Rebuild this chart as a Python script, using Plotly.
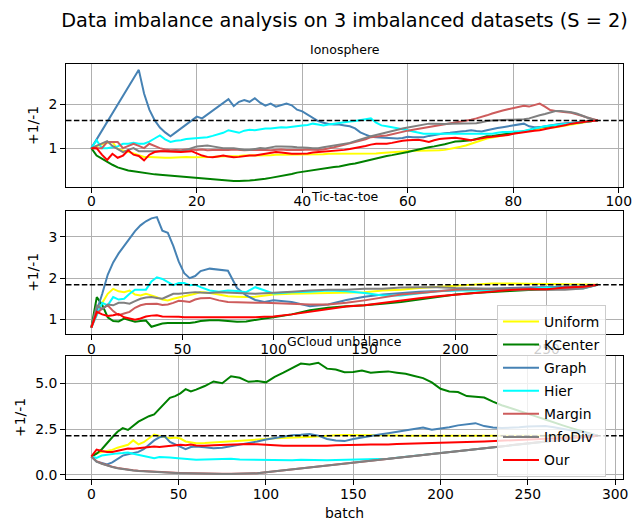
import plotly.graph_objects as go

# ---------------------------------------------------------------- data
SERIES = ["Uniform", "KCenter", "Graph", "Hier", "Margin", "InfoDiv", "Our"]
COLORS = ["#FFFF00", "#008000", "#4682B4", "#00FFFF", "#CD5C5C", "#808080", "#FF0000"]

# Ionosphere: one value per batch, 0..96
ION_X = list(range(97))
ION_REF = 1.63
ION_UNIFORM = [1.00,1.05,1.09,1.12,1.14,0.98,0.95,0.91,0.88,0.84,
               0.80,0.80,0.79,0.79,0.78,0.78,0.79,0.79,0.80,0.79,
               0.79,0.80,0.80,0.80,0.81,0.81,0.82,0.82,0.82,0.83,
               0.83,0.83,0.84,0.84,0.84,0.85,0.85,0.85,0.85,0.85,
               0.86,0.86,0.86,0.86,0.86,0.87,0.87,0.88,0.88,0.88,
               0.88,0.87,0.87,0.87,0.88,0.89,0.90,0.91,0.92,0.93,
               0.93,0.94,0.94,0.94,0.95,0.95,0.95,0.96,0.98,1.00,
               1.03,1.06,1.10,1.14,1.18,1.22,1.24,1.26,1.29,1.31,
               1.34,1.36,1.38,1.40,1.42,1.43,1.45,1.47,1.48,1.50,
               1.52,1.55,1.57,1.59,1.61,1.62,1.63]
ION_KCENTER = [1.00,0.83,0.76,0.68,0.62,0.56,0.52,0.49,0.47,0.45,
               0.43,0.41,0.40,0.39,0.38,0.36,0.35,0.34,0.33,0.32,
               0.31,0.31,0.30,0.29,0.28,0.27,0.26,0.25,0.25,0.25,
               0.26,0.27,0.28,0.30,0.32,0.34,0.36,0.38,0.41,0.44,
               0.46,0.48,0.50,0.52,0.54,0.55,0.57,0.58,0.61,0.63,
               0.65,0.68,0.71,0.74,0.77,0.79,0.82,0.84,0.86,0.88,
               0.91,0.94,0.97,0.99,1.02,1.04,1.06,1.09,1.12,1.15,
               1.16,1.17,1.18,1.21,1.24,1.27,1.28,1.30,1.32,1.33,
               1.34,1.36,1.38,1.41,1.45,1.48,1.49,1.51,1.52,1.54,
               1.55,1.56,1.58,1.59,1.61,1.62,1.63]
ION_GRAPH = [1.00,1.20,1.40,1.59,1.79,1.99,2.19,2.39,2.59,2.79,
             2.25,1.88,1.64,1.47,1.36,1.27,1.36,1.45,1.53,1.62,
             1.72,1.68,1.77,1.86,1.95,2.04,2.12,1.96,2.06,2.10,
             2.06,2.14,2.04,1.97,2.02,1.95,1.99,2.02,1.98,1.88,
             1.84,1.76,1.70,1.62,1.58,1.55,1.54,1.54,1.52,1.50,
             1.45,1.36,1.31,1.26,1.25,1.24,1.23,1.23,1.22,1.23,
             1.26,1.25,1.25,1.25,1.28,1.30,1.33,1.34,1.35,1.37,
             1.38,1.39,1.41,1.39,1.38,1.41,1.44,1.46,1.48,1.50,
             1.52,1.54,1.56,1.50,1.48,1.48,1.50,1.52,1.55,1.56,
             1.57,1.58,1.59,1.60,1.62,1.63,1.63]
ION_HIER = [1.00,1.18,1.00,1.00,1.02,1.04,1.10,1.10,1.12,1.10,
            1.10,1.15,1.22,1.29,1.20,1.14,1.17,1.18,1.21,1.22,
            1.22,1.24,1.25,1.28,1.32,1.35,1.41,1.38,1.35,1.40,
            1.42,1.41,1.43,1.45,1.45,1.46,1.48,1.47,1.49,1.50,
            1.52,1.53,1.56,1.54,1.52,1.54,1.56,1.58,1.60,1.61,
            1.62,1.64,1.66,1.68,1.58,1.52,1.50,1.48,1.46,1.43,
            1.41,1.38,1.35,1.33,1.33,1.33,1.33,1.32,1.32,1.32,
            1.32,1.32,1.32,1.32,1.32,1.32,1.33,1.35,1.37,1.37,
            1.38,1.39,1.39,1.42,1.45,1.48,1.50,1.52,1.53,1.54,
            1.55,1.56,1.57,1.59,1.61,1.62,1.63]
ION_MARGIN = [1.00,1.00,1.00,1.14,1.14,1.14,1.00,1.05,1.10,1.05,
              1.00,1.10,1.05,1.00,0.97,0.95,0.96,0.95,0.97,0.96,
              0.96,0.97,0.95,0.96,0.96,0.95,0.96,0.97,0.96,0.95,
              0.96,0.96,0.97,0.96,0.95,0.96,0.97,0.96,0.96,0.95,
              0.96,0.97,0.96,0.96,0.97,0.99,1.02,1.05,1.08,1.11,
              1.14,1.16,1.20,1.25,1.27,1.28,1.29,1.32,1.35,1.38,
              1.40,1.42,1.44,1.46,1.48,1.50,1.52,1.54,1.56,1.58,
              1.60,1.62,1.65,1.68,1.71,1.75,1.79,1.83,1.86,1.89,
              1.92,1.95,1.97,1.95,1.98,2.02,1.95,1.87,1.85,1.83,
              1.82,1.81,1.78,1.74,1.70,1.66,1.63]
ION_INFODIV = [1.00,1.05,1.10,1.16,1.05,0.98,0.91,0.96,1.00,0.93,
               0.93,0.93,0.93,0.93,0.93,0.93,0.93,0.93,0.96,1.00,
               1.04,1.05,1.06,1.04,1.02,1.00,1.00,1.00,0.98,0.96,
               0.96,0.98,1.00,0.99,1.02,1.04,1.04,1.04,1.03,1.02,
               1.02,1.01,1.00,1.00,1.02,1.04,1.06,1.07,1.10,1.12,
               1.16,1.20,1.23,1.27,1.30,1.33,1.37,1.40,1.42,1.45,
               1.47,1.49,1.52,1.54,1.56,1.56,1.55,1.55,1.56,1.56,
               1.56,1.56,1.56,1.57,1.59,1.62,1.63,1.64,1.65,1.65,
               1.65,1.65,1.66,1.68,1.72,1.75,1.78,1.82,1.85,1.85,
               1.84,1.82,1.79,1.74,1.70,1.66,1.63]
ION_OUR = [1.00,1.00,0.85,0.73,0.87,0.78,0.83,0.95,0.85,0.82,
           0.72,0.85,0.91,0.93,0.93,0.93,0.92,0.91,0.92,0.93,
           0.88,0.83,0.80,0.79,0.81,0.83,0.81,0.79,0.80,0.82,
           0.83,0.83,0.85,0.87,0.88,0.91,0.90,0.88,0.87,0.87,
           0.87,0.88,0.90,0.91,0.91,0.92,0.93,0.95,0.96,0.98,
           1.00,1.02,1.05,1.08,1.10,1.10,1.10,1.12,1.15,1.17,
           1.18,1.18,1.19,1.17,1.14,1.18,1.21,1.22,1.23,1.24,
           1.22,1.20,1.18,1.20,1.23,1.25,1.26,1.27,1.28,1.30,
           1.33,1.35,1.37,1.38,1.40,1.41,1.44,1.46,1.48,1.50,
           1.53,1.56,1.58,1.59,1.61,1.62,1.63]

# Tic-tac-toe: sampled batches 0..278
TTT_X = [0, 3, 6, 9, 12, 15, 18, 21, 24, 27, 30, 33, 36, 39, 42, 45, 48, 51, 54, 57, 60,
         65, 70, 75, 80, 85, 90, 95, 100, 110, 120, 130, 140, 150, 160, 170, 180, 190,
         200, 210, 220, 230, 240, 250, 260, 270, 278]
TTT_REF = 1.84
TTT_UNIFORM = [0.80,1.25,1.40,1.62,1.74,1.68,1.66,1.70,1.60,1.58,1.62,1.58,1.54,1.48,1.46,1.50,
               1.53,1.55,1.58,1.62,1.66,1.64,1.60,1.56,1.55,1.54,1.55,1.57,1.60,1.62,1.63,1.64,
               1.65,1.66,1.70,1.72,1.76,1.79,1.82,1.85,1.87,1.87,1.87,1.86,1.85,1.85,1.84]
TTT_KCENTER = [0.80,1.54,1.35,1.05,0.96,0.95,1.02,0.98,0.94,0.96,0.97,0.82,0.86,0.90,0.91,0.91,
               0.91,0.92,0.91,0.93,0.96,0.98,0.98,0.96,0.94,0.95,0.99,1.02,1.05,1.12,1.22,1.28,
               1.32,1.34,1.38,1.42,1.48,1.54,1.60,1.64,1.67,1.69,1.71,1.72,1.74,1.78,1.84]
TTT_GRAPH = [0.80,1.20,1.62,2.08,2.38,2.60,2.78,2.95,3.14,3.28,3.38,3.45,3.48,3.15,3.10,2.78,
             2.40,2.12,2.00,2.05,2.17,2.23,2.20,2.18,1.76,1.58,1.47,1.42,1.46,1.42,1.32,1.36,
             1.47,1.55,1.60,1.64,1.67,1.69,1.71,1.73,1.75,1.76,1.77,1.78,1.79,1.80,1.84]
TTT_HIER = [0.80,1.10,1.40,1.34,1.54,1.48,1.50,1.62,1.72,1.72,1.72,1.92,2.02,1.98,1.90,1.83,
            1.88,1.88,1.83,1.84,1.78,1.70,1.67,1.70,1.69,1.66,1.78,1.70,1.63,1.66,1.67,1.70,
            1.68,1.64,1.58,1.58,1.63,1.68,1.70,1.70,1.70,1.72,1.73,1.77,1.76,1.75,1.84]
TTT_MARGIN = [0.80,1.14,1.26,1.34,1.20,1.10,1.14,1.18,1.28,1.34,1.37,1.38,1.38,1.35,1.36,1.40,
              1.45,1.44,1.42,1.48,1.51,1.52,1.46,1.42,1.41,1.40,1.40,1.40,1.39,1.38,1.36,1.36,
              1.40,1.46,1.53,1.60,1.64,1.68,1.72,1.73,1.74,1.74,1.74,1.73,1.74,1.76,1.84]
TTT_INFODIV = [0.80,1.34,1.25,1.36,1.34,1.40,1.40,1.38,1.44,1.50,1.53,1.54,1.52,1.50,1.56,1.62,
               1.62,1.63,1.65,1.66,1.65,1.64,1.66,1.65,1.63,1.62,1.62,1.63,1.64,1.67,1.70,1.72,
               1.72,1.74,1.74,1.77,1.78,1.78,1.76,1.75,1.74,1.73,1.72,1.72,1.72,1.75,1.84]
TTT_OUR = [0.80,1.18,1.12,1.08,1.10,1.13,1.05,1.02,0.99,1.02,1.07,1.09,1.10,1.07,1.07,1.06,
           1.06,1.05,1.05,1.04,1.04,1.04,1.04,1.04,1.04,1.04,1.05,1.06,1.07,1.12,1.18,1.25,
           1.31,1.34,1.40,1.45,1.51,1.56,1.60,1.63,1.67,1.71,1.73,1.73,1.77,1.79,1.84]

# GCloud unbalance: sampled batches 0..290
GC_X = [0, 3, 6, 9, 12, 15, 18, 21, 24, 27, 30, 33, 36, 39, 42, 45, 48, 51, 54, 57, 60,
        65, 70, 75, 80, 85, 90, 95, 100, 105, 110, 115, 120, 125, 130, 135, 140, 145,
        150, 155, 160, 165, 170, 175, 180, 185, 190, 195, 200, 205, 210, 215, 220, 225,
        230, 235, 240, 245, 250, 255, 260, 265, 270, 275, 280, 285, 290]
GC_REF = 2.13
GC_UNIFORM = [1.00,1.18,1.24,1.30,1.36,1.48,1.57,1.64,1.88,1.66,1.78,2.00,2.20,2.12,2.06,2.00,
              2.04,1.98,1.82,1.76,1.73,1.74,1.77,1.80,1.82,1.82,1.85,1.90,1.95,2.00,2.03,2.05,
              2.05,2.07,2.11,2.14,2.16,2.18,2.18,2.17,2.16,2.15,2.14,2.14,2.13,2.13,2.12,2.12,
              2.11,2.11,2.10,2.10,2.10,2.10,2.10,2.10,2.10,2.10,2.11,2.11,2.11,2.11,2.12,2.12,
              2.12,2.12,2.13]
GC_KCENTER = [1.00,1.15,1.40,1.75,2.05,2.35,2.55,2.45,2.70,2.90,3.05,3.20,3.30,3.60,3.95,4.20,
              4.30,4.45,4.68,4.55,4.65,4.85,5.10,5.00,5.38,5.30,5.08,5.12,5.05,5.35,5.58,5.85,
              6.08,6.02,6.12,5.80,5.75,5.60,5.62,5.70,5.58,5.62,5.65,5.58,5.52,5.40,5.28,5.05,
              4.70,4.55,4.52,4.30,4.28,4.22,4.00,3.80,3.65,3.48,3.33,3.18,3.02,2.88,2.70,2.55,
              2.42,2.30,2.13]
GC_GRAPH = [1.00,0.72,0.65,0.56,0.68,0.85,1.05,1.12,1.18,1.25,1.40,1.64,1.88,2.05,2.10,1.80,
            1.68,1.55,1.40,1.52,1.55,1.50,1.45,1.48,1.56,1.65,1.72,1.82,1.93,2.00,2.10,2.16,
            2.19,2.23,2.14,1.96,1.87,1.84,1.96,2.05,2.12,2.20,2.27,2.35,2.43,2.52,2.58,2.46,
            2.52,2.60,2.70,2.76,2.82,2.66,2.58,2.55,2.56,2.60,2.64,2.66,2.67,2.60,2.50,2.42,
            2.35,2.25,2.13]
GC_HIER = [1.00,0.92,1.05,1.10,1.15,1.17,1.19,1.22,1.15,1.08,1.01,0.95,0.91,0.97,0.98,0.95,
           0.92,0.90,0.86,0.83,0.82,0.84,0.86,0.89,0.88,0.83,0.82,0.82,0.81,0.79,0.78,0.80,
           0.82,0.80,0.78,0.79,0.81,0.82,0.84,0.85,0.86,0.88,0.88,0.93,0.98,1.03,1.08,1.14,
           1.19,1.24,1.29,1.35,1.40,1.45,1.50,1.56,1.61,1.66,1.71,1.77,1.82,1.87,1.92,1.98,
           2.03,2.08,2.13]
GC_MARGIN = [1.00,0.74,0.62,0.52,0.44,0.37,0.32,0.28,0.25,0.22,0.20,0.18,0.16,0.14,0.13,0.12,
             0.11,0.10,0.09,0.08,0.08,0.07,0.06,0.06,0.06,0.06,0.07,0.09,0.14,0.19,0.24,0.30,
             0.35,0.40,0.45,0.51,0.56,0.61,0.66,0.72,0.77,0.82,0.87,0.93,0.98,1.03,1.08,1.14,
             1.19,1.24,1.29,1.35,1.40,1.45,1.50,1.56,1.61,1.66,1.71,1.77,1.82,1.87,1.92,1.98,
             2.03,2.08,2.13]
GC_INFODIV = [1.00,0.72,0.60,0.50,0.42,0.36,0.31,0.27,0.24,0.21,0.19,0.17,0.15,0.14,0.12,0.11,
              0.10,0.09,0.08,0.07,0.07,0.06,0.05,0.05,0.05,0.05,0.06,0.08,0.14,0.19,0.24,0.30,
              0.35,0.40,0.45,0.51,0.56,0.61,0.66,0.72,0.77,0.82,0.87,0.93,0.98,1.03,1.08,1.14,
              1.19,1.24,1.29,1.35,1.40,1.45,1.50,1.56,1.61,1.66,1.71,1.77,1.82,1.87,1.92,1.98,
              2.03,2.08,2.13]
GC_OUR = [1.00,1.38,1.30,1.24,1.25,1.30,1.36,1.44,1.42,1.46,1.50,1.50,1.55,1.52,1.55,1.58,
          1.63,1.64,1.62,1.65,1.60,1.58,1.62,1.64,1.63,1.66,1.68,1.67,1.64,1.60,1.58,1.59,
          1.58,1.57,1.58,1.59,1.62,1.64,1.63,1.64,1.65,1.64,1.66,1.68,1.69,1.70,1.71,1.72,
          1.73,1.74,1.75,1.77,1.80,1.82,1.84,1.86,1.88,1.89,1.91,1.93,1.95,1.97,2.00,2.02,
          2.05,2.08,2.13]

PANELS = [
    ("Ionosphere", ION_X, ION_REF,
     [ION_UNIFORM, ION_KCENTER, ION_GRAPH, ION_HIER, ION_MARGIN, ION_INFODIV, ION_OUR]),
    ("Tic-tac-toe", TTT_X, TTT_REF,
     [TTT_UNIFORM, TTT_KCENTER, TTT_GRAPH, TTT_HIER, TTT_MARGIN, TTT_INFODIV, TTT_OUR]),
    ("GCloud unbalance", GC_X, GC_REF,
     [GC_UNIFORM, GC_KCENTER, GC_GRAPH, GC_HIER, GC_MARGIN, GC_INFODIV, GC_OUR]),
]

# ---------------------------------------------------------------- layout
W, H = 634, 525
ML, MR, MT, MB = 66, 11, 64, 46
PLOT_H = H - MT - MB

def ydom(top_px, bottom_px):
    return [(H - MB - bottom_px) / PLOT_H, (H - MB - top_px) / PLOT_H]

DOMAINS = [ydom(64.3, 186.7), ydom(210.7, 334.0), ydom(356.0, 479.0)]
X_RANGES = [[-4.8, 100.8], [-13.9, 291.9], [-14.5, 304.5]]
Y_RANGES = [[0.118, 2.917], [0.644, 3.636], [-0.23, 6.49]]
X_TICKS = [list(range(0, 101, 20)), list(range(0, 251, 50)), list(range(0, 301, 50))]
Y_TICKS = [[1, 2], [1, 2, 3], [0.0, 2.5, 5.0]]

FONT = "DejaVu Sans"
TICK_PX = 13.9

fig = go.Figure()

for p, (name, xs, ref, values) in enumerate(PANELS):
    xa = "x" if p == 0 else f"x{p + 1}"
    ya = "y" if p == 0 else f"y{p + 1}"
    for s, (label, color, ys) in enumerate(zip(SERIES, COLORS, values)):
        fig.add_trace(go.Scatter(
            x=xs, y=ys, mode="lines", name=label,
            line=dict(color=color, width=2),
            xaxis=xa, yaxis=ya, legendgroup=label, showlegend=(p == 0),
        ))
    # reference ratio
    fig.add_shape(type="line", xref=f"{xa} domain", yref=ya,
                  x0=0, x1=1, y0=ref, y1=ref, layer="above",
                  line=dict(color="black", width=1.5, dash="5.5px,2.4px"))
    # panel title
    fig.add_annotation(text=name, xref="paper", yref="paper", x=0.5,
                       y=DOMAINS[p][1], xanchor="center", yanchor="bottom",
                       yshift=5, showarrow=False,
                       font=dict(family=FONT, size=12.5, color="black"))

    axis_common = dict(showline=True, linecolor="black", linewidth=1, mirror=True,
                       ticks="outside", ticklen=5, tickwidth=1, tickcolor="black",
                       showgrid=True, gridcolor="#b0b0b0", gridwidth=1, zeroline=False,
                       tickfont=dict(family=FONT, size=TICK_PX, color="black"))
    xkey = "xaxis" if p == 0 else f"xaxis{p + 1}"
    ykey = "yaxis" if p == 0 else f"yaxis{p + 1}"
    fig.update_layout(**{
        xkey: dict(axis_common, domain=[0, 1], anchor=ya, range=X_RANGES[p],
                   tickvals=X_TICKS[p], ticklabelstandoff=-3),
        ykey: dict(axis_common, domain=DOMAINS[p], anchor=xa, range=Y_RANGES[p],
                   tickvals=Y_TICKS[p],
                   tickformat=".1f" if p == 2 else "d",
                   title=dict(text="+1/-1", font=dict(family=FONT, size=TICK_PX, color="black"),
                              standoff=6)),
    })

fig.update_layout(
    xaxis3_title=dict(text="batch", font=dict(family=FONT, size=TICK_PX, color="black"),
                      standoff=7),
    width=W, height=H,
    margin=dict(l=ML, r=MR, t=MT, b=MB, autoexpand=False),
    paper_bgcolor="white", plot_bgcolor="white",
    title=dict(text="Data imbalance analysis on 3 imbalanced datasets (S = 2)",
               x=(ML + (W - MR)) / 2 / W, xanchor="center",
               y=1 - 20 / H, yanchor="middle",
               font=dict(family=FONT, size=19.3, color="black")),
    legend=dict(x=(497 - ML) / (W - ML - MR), y=(H - MB - 305) / PLOT_H,
                xanchor="left", yanchor="top",
                bgcolor="rgba(255,255,255,0.8)", bordercolor="#cccccc", borderwidth=1,
                font=dict(family=FONT, size=TICK_PX, color="black"),
                traceorder="grouped", tracegroupgap=2, itemwidth=36),
    showlegend=True,
)

fig.write_html("out.html")
